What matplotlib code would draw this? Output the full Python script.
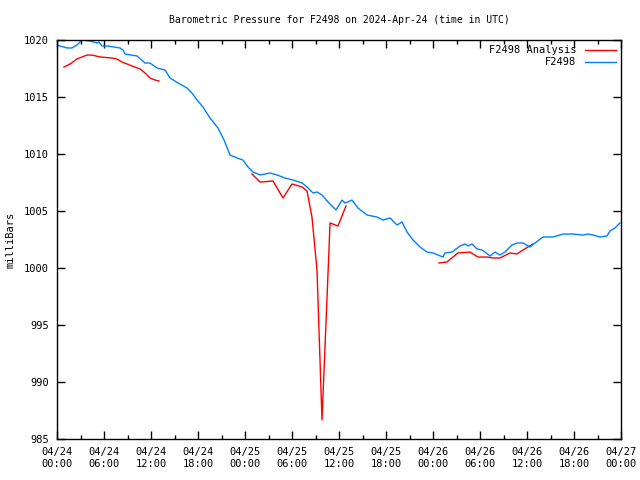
import numpy as np
import matplotlib
matplotlib.use('Agg')
import matplotlib.pyplot as plt
from matplotlib.ticker import MultipleLocator

# hours since 2024-04-24 00:00 UTC, pressure in millibars
obs_hours = [0, 0.38, 1.28, 1.91, 2.55, 3.19, 4.21, 5.11, 5.36, 5.74, 6.51, 8.04, 8.43, 8.68,
             10.21, 11.23, 11.87, 12.77, 13.79, 14.43, 15.45, 16.6, 17.23, 17.87, 18.64, 19.53,
             20.55, 21.32, 22.09, 22.98, 23.74, 24.38, 25.02, 25.92, 27.19, 28.09, 29.11, 30.13,
             31.28, 31.92, 32.68, 33.19, 33.83, 34.6, 35.62, 36.38, 36.77, 37.66, 38.43, 39.57,
             40.85, 41.62, 42.51, 43.41, 44.04, 44.68, 45.45, 46.34, 47.24, 48.0, 48.64, 49.28,
             49.53, 50.43, 51.45, 52.09, 52.47, 52.98, 53.62, 54.26, 54.64, 55.28, 55.92, 56.56,
             57.19, 58.09, 58.72, 59.49, 60.38, 61.02, 62.04, 63.32, 64.6, 65.87, 67.15, 67.79,
             68.43, 69.32, 70.21, 70.6, 71.23, 71.87]
obs_mb = [1019.56, 1019.47, 1019.3, 1019.3, 1019.56, 1020.0, 1019.91, 1019.74, 1019.82, 1019.47,
          1019.47, 1019.3, 1019.12, 1018.77, 1018.6, 1017.98, 1017.98, 1017.54, 1017.37, 1016.67,
          1016.23, 1015.79, 1015.35, 1014.74, 1014.12, 1013.16, 1012.28, 1011.23, 1009.91, 1009.65,
          1009.47, 1008.86, 1008.42, 1008.16, 1008.33, 1008.16, 1007.89, 1007.72, 1007.46, 1007.11,
          1006.58, 1006.67, 1006.4, 1005.79, 1005.09, 1005.96, 1005.7, 1005.96, 1005.26, 1004.65,
          1004.47, 1004.21, 1004.39, 1003.77, 1004.04, 1003.16, 1002.46, 1001.84, 1001.4, 1001.32,
          1001.14, 1000.96, 1001.32, 1001.4, 1001.93, 1002.11, 1001.93, 1002.11, 1001.67, 1001.58,
          1001.4, 1001.05, 1001.4, 1001.14, 1001.4, 1002.02, 1002.19, 1002.19, 1001.84, 1002.19,
          1002.72, 1002.72, 1002.98, 1002.98, 1002.89, 1002.98, 1002.89, 1002.72, 1002.81, 1003.25,
          1003.51, 1003.95]

# analysis comes in three separate runs (gaps between them)
ana_hours = [
    [0.89, 1.66, 2.55, 3.19, 3.83, 4.47, 5.49, 7.02, 7.66, 8.3, 9.57, 10.6, 11.23, 11.87, 12.51, 13.02],
    [24.89, 25.92, 27.57, 28.85, 30.0, 31.28, 31.92, 32.55, 33.19, 33.83, 34.72, 34.85, 35.87, 36.89],
    [48.77, 49.79, 50.55, 51.19, 52.72, 53.75, 54.89, 55.66, 56.56, 57.83, 58.72, 59.49, 60.77],
]
ana_mb = [
    [1017.63, 1017.89, 1018.33, 1018.51, 1018.68, 1018.68, 1018.51, 1018.42, 1018.33, 1018.07,
     1017.72, 1017.46, 1017.11, 1016.67, 1016.49, 1016.4],
    [1008.25, 1007.54, 1007.63, 1006.14, 1007.37, 1007.11, 1006.75, 1004.47, 999.82, 986.67,
     1001.58, 1003.95, 1003.68, 1005.44],
    [1000.44, 1000.53, 1000.96, 1001.32, 1001.4, 1000.96, 1000.96, 1000.88, 1000.88, 1001.32,
     1001.23, 1001.58, 1002.11],
]

tick_hours = list(range(0, 73, 6))
tick_labels = ['04/24\n00:00', '04/24\n06:00', '04/24\n12:00', '04/24\n18:00',
               '04/25\n00:00', '04/25\n06:00', '04/25\n12:00', '04/25\n18:00',
               '04/26\n00:00', '04/26\n06:00', '04/26\n12:00', '04/26\n18:00',
               '04/27\n00:00']

plt.rcParams['font.family'] = 'DejaVu Sans Mono'
plt.rcParams['font.size'] = 7.5

fig = plt.figure(figsize=(6.4, 4.8), dpi=100)
ax = fig.add_axes([57/640, 1 - 439/480, 564/640, 399/480])

red = '#ff0000'
blue = '#0080ff'
for i, (h, p) in enumerate(zip(ana_hours, ana_mb)):
    ax.plot(h, p, color=red, lw=1, label='F2498 Analysis' if i == 0 else None)
ax.plot(obs_hours, obs_mb, color=blue, lw=1, label='F2498')

ax.set_xlim(0, 72)
ax.set_ylim(985, 1020)
ax.set_xticks(tick_hours)
ax.set_xticklabels(tick_labels)
ax.xaxis.set_minor_locator(MultipleLocator(3))
ax.set_yticks(np.arange(985, 1021, 5))
ax.tick_params(which='both', direction='in', top=True, right=True, width=1)
ax.tick_params(which='major', length=6, pad=6)
ax.tick_params(which='minor', length=3)
for s in ax.spines.values():
    s.set_linewidth(1)

ax.set_ylabel('milliBars', labelpad=6)
ax.set_title('Barometric Pressure for F2498 on 2024-Apr-24 (time in UTC)',
             fontsize=7.0, pad=12)

ax.legend(loc='upper right', frameon=False, markerfirst=False, handlelength=3,
          borderaxespad=0.1, labelspacing=0.2, handletextpad=0.8)

fig.savefig('out.png', dpi=100)
